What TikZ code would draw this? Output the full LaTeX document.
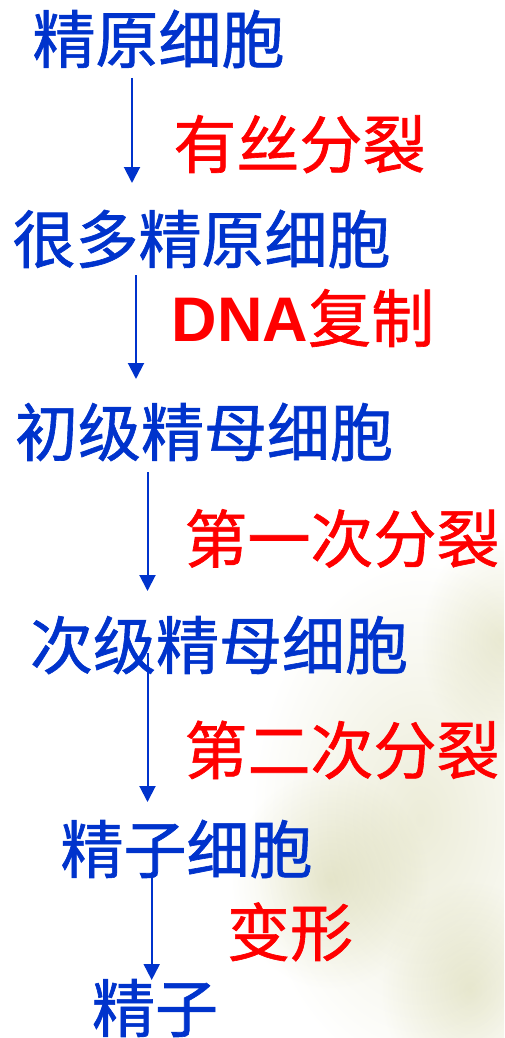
\documentclass[tikz,border=0pt]{standalone}
\usepackage{fontspec}
\newfontfamily\cjk[FakeBold=1]{Noto Sans CJK SC}
\newfontfamily\lat{Liberation Sans}
\usetikzlibrary{arrows.meta,calc}
\definecolor{cblue}{RGB}{0,51,204}
\definecolor{cred}{RGB}{255,0,0}
\definecolor{bgolive}{RGB}{236,236,216}
\begin{document}
\begin{tikzpicture}[x=1pt,y=-1pt,
  stage/.style={text=cblue,font=\cjk\fontsize{63}{70}\selectfont,inner sep=0pt,
    text height=51.7pt,text depth=3.8pt,anchor=center},
  proc/.style={text=cred,font=\cjk\fontsize{63}{70}\selectfont,inner sep=0pt,
    text height=51.7pt,text depth=3.8pt,anchor=center},
  blob/.style={blend mode=multiply,inner color=bgolive,outer color=white},
  arr/.style={draw=cblue,line width=2pt,-{Triangle[width=16pt,length=16pt]}}]
\useasboundingbox (0,0) rectangle (504,1038);
\fill[white] (0,0) rectangle (504,1038);
% faint background blob
\begin{scope}
\clip (0,0) rectangle (504,1038);
\shade[blob] (420,820) ellipse (170 and 260);
\shade[blob] (500,640) ellipse (80 and 110);
\shade[blob] (330,880) ellipse (100 and 110);
\shade[blob] (470,990) ellipse (90 and 110);
\end{scope}
% nodes
\node[stage] (n1) at (158.5,39) {精原细胞};
\node[proc]  (p1) at (299.5,144) {有丝分裂};
\node[stage] (n2) at (201.5,239) {很多精原细胞};
\node[proc]  (p2) at (303,318) {{\lat\bfseries DNA}复制};
\node[stage] (n3) at (204,432) {初级精母细胞};
\node[proc]  (p3) at (342,538.5) {第一次分裂};
\node[stage] (n4) at (219,645) {次级精母细胞};
\node[proc]  (p4) at (342,750) {第二次分裂};
\node[stage] (n5) at (186.5,849) {精子细胞};
\node[proc]  (p5) at (290,932) {变形};
\node[stage] (n6) at (155,1008) {精子};
% arrow columns
\coordinate (a1) at (132,0);
\coordinate (a2) at (136,0);
\coordinate (a3) at (147.5,0);
\coordinate (a4) at (147.5,0);
\coordinate (a5) at (151.7,0);
\draw[arr] ($(n1.center -| a1)+(0,39)$) -- ($(n2.center -| a1)+(0,-56)$);
\draw[arr] ($(n2.center -| a2)+(0,36)$) -- ($(n3.center -| a2)+(0,-53)$);
\draw[arr] ($(n3.center -| a3)+(0,40)$) -- ($(n4.center -| a3)+(0,-54)$);
\draw[arr] ($(n4.center -| a4)+(0,8)$) -- ($(n5.center -| a4)+(0,-47)$);
\draw[arr] ($(n5.center -| a5)+(0,26)$) -- ($(n6.center -| a5)+(0,-28)$);
\end{tikzpicture}
\end{document}
